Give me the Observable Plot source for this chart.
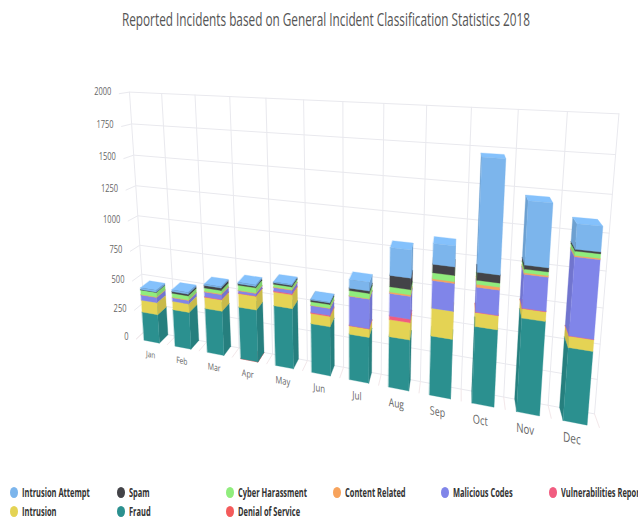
<!DOCTYPE html>
<html>
<head>
<meta charset="utf-8">
<script src="https://cdn.jsdelivr.net/npm/d3@7"></script>
<script src="https://cdn.jsdelivr.net/npm/@observablehq/plot@0.6"></script>
<style>
  html, body { margin: 0; padding: 0; background: #fff; width: 638px; height: 523px; overflow: hidden; }
  #title { position: relative; height: 40px; }
  #title span { position: absolute; left: 326px; top: 7px; white-space: nowrap; transform: translateX(-50%) scaleX(0.655); font: 18px/24px "Open Sans", sans-serif; color: #555; }
  #chart { height: 440px; }
  #chart svg { display: block; }
  #legend { position: absolute; left: 0; top: 482px; width: 638px; height: 41px; overflow: hidden; font: 700 11.5px "Open Sans", sans-serif; color: #333; }
  .entry { position: absolute; white-space: nowrap; line-height: 19px; }
  .entry span { display: inline-block; transform-origin: left center; transform: scaleX(0.65); }
  .entry i { position: absolute; left: -12px; top: 4px; width: 8px; height: 11px; border-radius: 50%; }
</style>
</head>
<body>
<div id="title"><span>Reported Incidents based on General Incident Classification Statistics 2018</span></div>
<div id="chart"></div>
<div id="legend"></div>
<script>
const months = ["Jan", "Feb", "Mar", "Apr", "May", "Jun", "Jul", "Aug", "Sep", "Oct", "Nov", "Dec"];
const valueTicks = [0, 250, 500, 750, 1000, 1250, 1500, 1750, 2000];

// Monthly incident counts per classification
const denialOfService = [0, 0, 0, 1, 0, 0, 0, 0, 0, 0, 0, 0];
const fraud = [245, 311, 367, 422, 480, 386, 354, 386, 442, 560, 667, 514];
const intrusion = [102, 71, 93, 110, 108, 80, 65, 128, 202, 100, 66, 79];
const vulnerabilities = [0, 0, 3, 3, 8, 8, 2, 26, 0, 2, 3, 2];
const maliciousCodes = [44, 29, 39, 19, 27, 53, 222, 167, 198, 175, 230, 525];
const contentRelated = [5, 4, 6, 4, 4, 3, 3, 10, 12, 20, 10, 8];
const cyberHarassment = [38, 34, 28, 41, 22, 27, 39, 38, 43, 28, 25, 29];
const spam = [3, 14, 20, 11, 11, 13, 18, 83, 60, 55, 27, 12];
const intrusionAttempt = [15, 15, 11, 12, 8, 6, 65, 200, 145, 765, 421, 163];

// Stacking order, bottom to top
const stackOrder = [
  {name: "Denial of Service", values: denialOfService, color: "#f45b5b"},
  {name: "Fraud", values: fraud, color: "#2b908f"},
  {name: "Intrusion", values: intrusion, color: "#e4d354"},
  {name: "Vulnerabilities Report", values: vulnerabilities, color: "#f15c80"},
  {name: "Malicious Codes", values: maliciousCodes, color: "#8085e9"},
  {name: "Content Related", values: contentRelated, color: "#f7a35c"},
  {name: "Cyber Harassment", values: cyberHarassment, color: "#90ed7d"},
  {name: "Spam", values: spam, color: "#434348"},
  {name: "Intrusion Attempt", values: intrusionAttempt, color: "#7cb5ec"}
];

// Legend reading order
const legendOrder = [
  "Intrusion Attempt", "Spam", "Cyber Harassment", "Content Related", "Malicious Codes", "Vulnerabilities Report",
  "Intrusion", "Fraud", "Denial of Service"
];

const chartTop = 40;
const valueMax = 2000;

// Perspective camera: three vanishing points with their weights, plus the image of the
// far bottom-left corner of the plot box. Inputs: category position, value, depth (0 = back wall, 1 = front).
const camera = {
  origin: [145, 330],
  categories: [-1537, 17.6, -0.2107],
  values: [351, 3398, -0.0721],
  depth: [460, 41, -0.0278]
};

function toScreen(category, value, depth) {
  const u = category / months.length;
  const t = value / valueMax;
  const {origin, categories: a, values: b, depth: c} = camera;
  const w = 1 + u * a[2] + t * b[2] + depth * c[2];
  return [
    (origin[0] + u * a[2] * a[0] + t * b[2] * b[0] + depth * c[2] * c[0]) / w,
    (origin[1] + u * a[2] * a[1] + t * b[2] * b[1] + depth * c[2] * c[1]) / w - chartTop
  ];
}

const perspective = d3.geoTransform({
  point(category, value, depth = 1) {
    const [px, py] = toScreen(category, value, depth);
    this.stream.point(px, py);
  }
});

const polygon = (points) => ({type: "Polygon", coordinates: [[...points, points[0]]]});
const line = (points) => ({type: "LineString", coordinates: points});

// Column faces, stacked from the series arrays
const barInset = 0.25;
const faces = [];
months.forEach((month, i) => {
  const x0 = i + barInset;
  const x1 = i + 1 - barInset;
  const zBack = 0;
  const zFront = 1;
  const showRight = toScreen(x1, 0, zBack)[0] > toScreen(x1, 0, zFront)[0];
  const showLeft = toScreen(x0, 0, zBack)[0] < toScreen(x0, 0, zFront)[0];
  let base = 0;
  for (const series of stackOrder) {
    const value = series.values[i];
    if (!value) continue;
    const top = base + value;
    const base3 = d3.color(series.color);
    const dark = base3.darker(0.35).formatHex();
    const light = base3.brighter(0.18).formatHex();
    if (showRight) faces.push({shade: dark, geometry: polygon([[x1, base, zFront], [x1, base, zBack], [x1, top, zBack], [x1, top, zFront]])});
    if (showLeft) faces.push({shade: dark, geometry: polygon([[x0, base, zFront], [x0, base, zBack], [x0, top, zBack], [x0, top, zFront]])});
    faces.push({shade: light, geometry: polygon([[x0, top, zFront], [x1, top, zFront], [x1, top, zBack], [x0, top, zBack]])});
    faces.push({shade: series.color, geometry: polygon([[x0, base, zFront], [x1, base, zFront], [x1, top, zFront], [x0, top, zFront]])});
    base = top;
  }
});

// Grid on the back wall, the left wall and the floor
const edges = d3.range(months.length + 1);
const wallGrid = [
  ...valueTicks.map((v) => line([[0, v, 1], [0, v, 0], [months.length, v, 0]])),
  ...edges.map((e) => line([[e, 0, 0], [e, valueMax, 0]]))
];
const floorGrid = edges.map((e) => line([[e, 0, 0], [e, 0, 1]]));

const chart = Plot.plot({
  width: 638,
  height: 440,
  margin: 0,
  projection: perspective,
  color: {type: "identity"},
  style: {background: "transparent", overflow: "visible"},
  marks: [
    Plot.geo(wallGrid, {stroke: "#e9e9ee", strokeWidth: 1, fill: "none"}),
    Plot.geo(floorGrid, {stroke: "#f3e8ea", strokeWidth: 1, fill: "none"}),
    Plot.geo(faces, {geometry: (d) => d.geometry, fill: (d) => d.shade, stroke: (d) => d.shade, strokeWidth: 0.3}),
    Plot.text(valueTicks, {
      x: () => 0,
      y: (d) => d,
      text: (d) => String(d),
      textAnchor: "end",
      dx: -8,
      dy: -1.5,
      fontSize: 10,
      fontFamily: "Open Sans",
      fill: "#666",
      className: "value-label"
    }),
    Plot.text(months, {
      x: (d, i) => i + 0.5,
      y: () => -115,
      text: (d) => d,
      dx: -2,
      fontSize: (d, i) => 8 / Math.pow(1 - 0.0278 - 0.2107 * (i + 0.5) / months.length, 2),
      fontFamily: "Open Sans",
      fill: "#666",
      className: "month-label"
    })
  ]
});

// Labels are set condensed; month labels follow the slope of the floor with upright stems
const squeeze = (extra) => function () {
  return (this.getAttribute("transform") || "") + extra + " scale(0.75,1)";
};
d3.select(chart).selectAll(".value-label text").attr("transform", squeeze(""));
d3.select(chart).selectAll(".month-label text").attr("transform", squeeze(" skewY(11)"));
document.getElementById("chart").appendChild(chart);

// Two-row legend under the chart
const legendColumns = [22, 129, 238, 345, 453, 561];
const legend = document.getElementById("legend");
legendOrder.forEach((name, i) => {
  const series = stackOrder.find((s) => s.name === name);
  const entry = document.createElement("div");
  entry.className = "entry";
  entry.style.left = legendColumns[i % 6] + "px";
  entry.style.top = (i < 6 ? 1 : 20) + "px";
  const label = document.createElement("span");
  label.textContent = name;
  const swatch = document.createElement("i");
  swatch.style.background = series.color;
  entry.append(swatch, label);
  legend.appendChild(entry);
});
</script>
</body>
</html>
